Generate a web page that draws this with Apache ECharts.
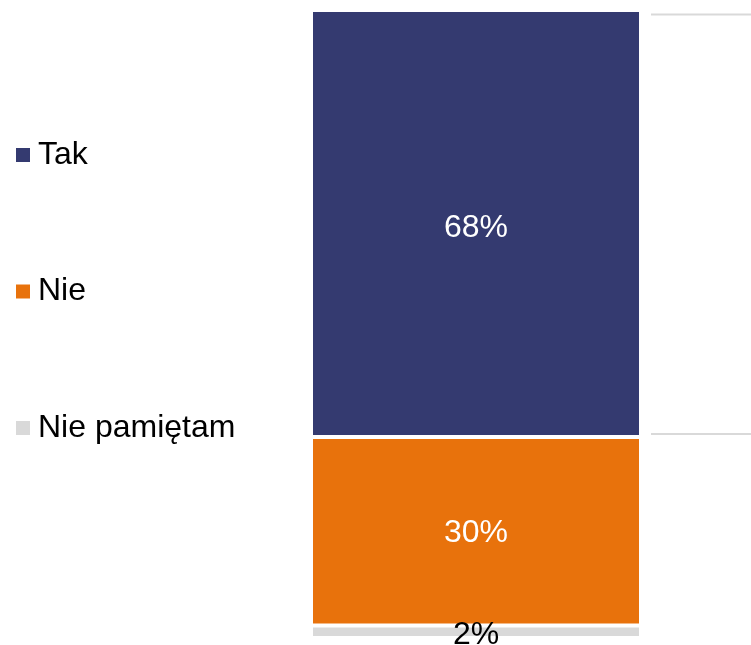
<!DOCTYPE html>
<html><head><meta charset="utf-8">
<script src="https://cdn.jsdelivr.net/npm/echarts@6/dist/echarts.min.js"></script>
<style>html,body{margin:0;padding:0;background:#fff}#c{width:751px;height:645px}</style>
</head><body><div id="c"></div>
<script>
const categories = [''];
const seriesNames = ['Tak', 'Nie', 'Nie pamiętam'];
const takValues = [68];
const nieValues = [30];
const niePamietamValues = [2];
const connectorValues = [99.3, 32.5];

const colors = ['#343A70', '#E8720C', '#D9D9D9'];
const labelColors = ['#ffffff', '#ffffff', '#000000'];
const labelOffsets = [[0, 5], [0, 2], [0, 3]];
const valueSets = [takValues, nieValues, niePamietamValues];
const font = 'Arial, "Liberation Sans", sans-serif';

const chart = echarts.init(document.getElementById('c'));
const barSeries = seriesNames.map((name, i) => ({
  name: name,
  type: 'bar',
  stack: 'total',
  xAxisIndex: 0, yAxisIndex: 0,
  barWidth: '100%',
  data: valueSets[i],
  itemStyle: { color: colors[i], borderColor: '#ffffff', borderWidth: 2 },
  label: {
    show: true, position: 'inside',
    formatter: p => p.value + '%',
    color: labelColors[i], fontSize: 32, fontFamily: font,
    offset: labelOffsets[i]
  },
  emphasis: { disabled: true }
})).reverse();

const connectorSeries = connectorValues.map(v => ({
  type: 'line',
  xAxisIndex: 1, yAxisIndex: 1,
  data: [[0, v], [1, v]],
  symbol: 'none',
  lineStyle: { color: '#D9D9D9', width: 2 },
  silent: true
}));

chart.setOption({
  animation: false,
  backgroundColor: '#ffffff',
  legend: {
    orient: 'vertical',
    left: 14, top: 139, padding: 0,
    icon: 'rect', itemWidth: 16, itemHeight: 16,
    itemGap: 104.5,
    data: seriesNames,
    textStyle: { fontSize: 32, lineHeight: 32, color: '#000000', fontFamily: font, padding: [0, 0, 0, 2] },
    selectedMode: false
  },
  grid: [
    { left: 311, width: 330, top: 10, bottom: 7 },
    { left: 651, right: 0, top: 10, bottom: 7 }
  ],
  xAxis: [
    { type: 'category', data: categories, gridIndex: 0, show: false },
    { type: 'value', min: 0, max: 1, gridIndex: 1, show: false }
  ],
  yAxis: [
    { type: 'value', min: 0, max: 100, gridIndex: 0, show: false },
    { type: 'value', min: 0, max: 100, gridIndex: 1, show: false }
  ],
  series: barSeries.concat(connectorSeries)
});
</script></body></html>
